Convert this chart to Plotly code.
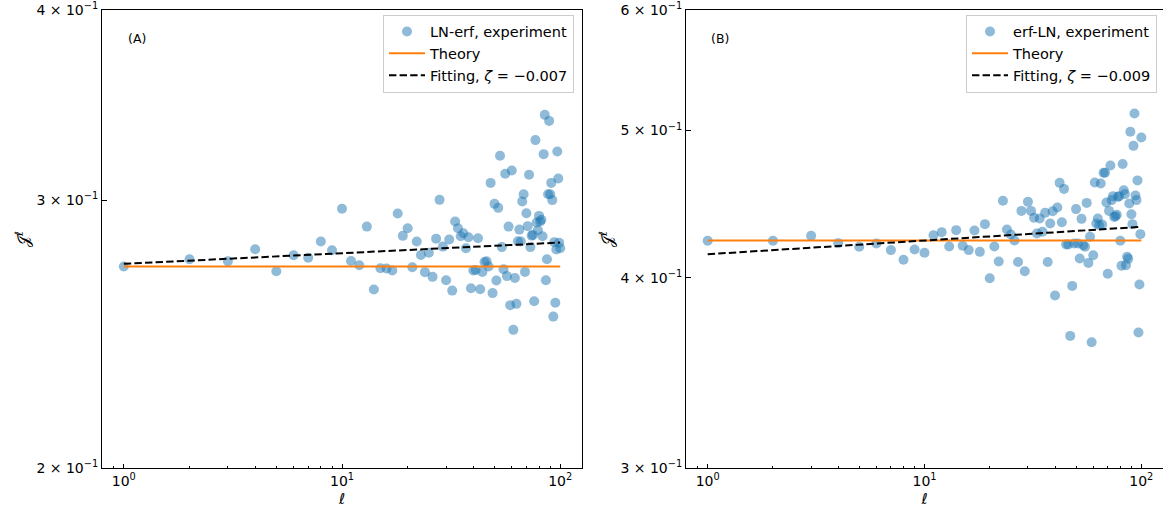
import math
import plotly.graph_objects as go

# ---------------- data ----------------
ell = list(range(1, 101))

ln_erf = [
    0.2713, 0.2743, 0.2735, 0.2785, 0.2694, 0.2760, 0.2749, 0.2818, 0.2781, 0.2961,
    0.2736, 0.2718, 0.2882, 0.2620, 0.2706, 0.2705, 0.2697, 0.2940, 0.2842, 0.2875,
    0.2710, 0.2818, 0.2761, 0.2690, 0.2770, 0.2671, 0.2830, 0.3001, 0.2796, 0.2657,
    0.2826, 0.2616, 0.2904, 0.2875, 0.2840, 0.2853, 0.2789, 0.2836, 0.2625, 0.2697,
    0.2699, 0.2832, 0.2621, 0.2691, 0.2732, 0.2735, 0.2713, 0.3079, 0.2606, 0.2983,
    0.2656, 0.2965, 0.3208, 0.2794, 0.2702, 0.3122, 0.2674, 0.2882, 0.2559, 0.3137,
    0.2465, 0.2666, 0.2564, 0.2819, 0.2869, 0.2818, 0.2994, 0.3027, 0.2691, 0.2941,
    0.2884, 0.3117, 0.2794, 0.2843, 0.2846, 0.2574, 0.3285, 0.2900, 0.2866, 0.2929,
    0.2904, 0.2912, 0.2840, 0.3216, 0.3413, 0.2657, 0.2743, 0.3027, 0.3382, 0.3027,
    0.3079, 0.3000, 0.2515, 0.2815, 0.2568, 0.2784, 0.3229, 0.3100, 0.2812, 0.2789,
]

erf_ln = [
    0.4231, 0.4231, 0.4263, 0.4216, 0.4193, 0.4214, 0.4172, 0.4111, 0.4176, 0.4155,
    0.4267, 0.4287, 0.4195, 0.4300, 0.4199, 0.4172, 0.4298, 0.4161, 0.4339, 0.3998,
    0.4195, 0.4101, 0.4495, 0.4304, 0.4272, 0.4233, 0.4098, 0.4427, 0.4041, 0.4488,
    0.4427, 0.4381, 0.4278, 0.4376, 0.4289, 0.4414, 0.4098, 0.4343, 0.4425, 0.3895,
    0.4450, 0.4619, 0.4352, 0.4577, 0.4207, 0.4207, 0.3664, 0.3952, 0.4214, 0.4439,
    0.4214, 0.4119, 0.4374, 0.4203, 0.4193, 0.4481, 0.4092, 0.4257, 0.3629, 0.4140,
    0.4621, 0.4343, 0.4376, 0.4332, 0.4614, 0.4337, 0.4690, 0.4690, 0.4484, 0.4025,
    0.4427, 0.4742, 0.4500, 0.4527, 0.4387, 0.4392, 0.4401, 0.4522, 0.4527, 0.4231,
    0.4074, 0.4752, 0.4568, 0.4541, 0.4078, 0.4130, 0.4117, 0.4477, 0.4990, 0.4405,
    0.4339, 0.4885, 0.5130, 0.4531, 0.4500, 0.4636, 0.3683, 0.3960, 0.4274, 0.4947,
]

theory_A = 0.2713
theory_B = 0.4233
fit_amp_A, zeta_A = 0.2724, -0.007
fit_amp_B, zeta_B = 0.4146, -0.009

names_A = ["LN-erf, experiment", "Theory", "Fitting, <i>ζ</i> = −0.007"]
names_B = ["erf-LN, experiment", "Theory", "Fitting, <i>ζ</i> = −0.009"]

x_major = [1, 10, 100]
x_major_text = ["10<sup>0</sup>", "10<sup>1</sup>", "10<sup>2</sup>"]
x_minor = [0.8, 0.9] + [k for k in range(2, 10)] + [10 * k for k in range(2, 10)]

yA_ticks = [0.2, 0.3, 0.4]
yA_text = ["2 × 10<sup>−1</sup>", "3 × 10<sup>−1</sup>", "4 × 10<sup>−1</sup>"]
yB_ticks = [0.3, 0.4, 0.5, 0.6]
yB_text = ["3 × 10<sup>−1</sup>", "4 × 10<sup>−1</sup>", "5 × 10<sup>−1</sup>", "6 × 10<sup>−1</sup>"]

# ---------------- styles ----------------
FONT = "DejaVu Sans"
BLUE = "rgba(31,119,180,0.5)"
ORANGE = "#ff7f0e"
W, H = 1163, 512

fig = go.Figure()


def add_panel(values, theory, amp, zeta, names, xa, ya, leg):
    fig.add_trace(go.Scatter(
        x=ell, y=values, mode="markers", name=names[0],
        marker=dict(color=BLUE, size=10, line=dict(width=0)),
        xaxis=xa, yaxis=ya, legend=leg))
    fig.add_trace(go.Scatter(
        x=[ell[0], ell[-1]], y=[theory, theory], mode="lines", name=names[1],
        line=dict(color=ORANGE, width=2),
        xaxis=xa, yaxis=ya, legend=leg))
    fit = [amp * l ** (-zeta) for l in ell]
    fig.add_trace(go.Scatter(
        x=ell, y=fit, mode="lines", name=names[2],
        line=dict(color="black", width=2, dash="7.4px,3.2px"),
        xaxis=xa, yaxis=ya, legend=leg))


add_panel(ln_erf, theory_A, fit_amp_A, zeta_A, names_A, "x", "y", "legend")
add_panel(erf_ln, theory_B, fit_amp_B, zeta_B, names_B, "x2", "y2", "legend2")

xcommon = dict(
    type="log", range=[-0.1, 2.1], showgrid=False, zeroline=False,
    showline=True, linecolor="black", linewidth=1, mirror=True,
    ticks="inside", ticklen=4.5, tickwidth=1, tickcolor="black",
    tickvals=x_major, ticktext=x_major_text,
    tickfont=dict(family=FONT, size=14, color="black"),
    minor=dict(tickvals=x_minor, ticks="inside", ticklen=2.5, tickwidth=1,
               tickcolor="black", showgrid=False),
    title=dict(text="<i>ℓ</i>", font=dict(family=FONT, size=15, color="black"), standoff=5),
    automargin=False,
)
ycommon = dict(
    type="log", showgrid=False, zeroline=False,
    showline=True, linecolor="black", linewidth=1, mirror=True,
    ticks="inside", ticklen=4.5, tickwidth=1, tickcolor="black",
    tickfont=dict(family=FONT, size=14, color="black"),
    title=dict(text="𝒥<sup><i>ℓ</i></sup>", font=dict(family=FONT, size=16, color="black"), standoff=2),
    automargin=False,
)

legcommon = dict(
    xanchor="right", yanchor="top", y=0.99,
    bgcolor="rgba(255,255,255,0.8)", bordercolor="#cccccc", borderwidth=1,
    font=dict(family=FONT, size=14.5, color="black"),
    itemwidth=36, tracegroupgap=0,
)

fig.update_layout(
    width=W, height=H,
    margin=dict(l=0, r=0, t=10, b=44),
    paper_bgcolor="white", plot_bgcolor="white",
    font=dict(family=FONT, color="black"),
    xaxis=dict(domain=[102 / W, 582 / W], anchor="y", **xcommon),
    yaxis=dict(domain=[0, 1], anchor="x", range=[math.log10(0.2), math.log10(0.4)],
               tickvals=yA_ticks, ticktext=yA_text, **ycommon),
    xaxis2=dict(domain=[686 / W, 1.0], anchor="y2", **xcommon),
    yaxis2=dict(domain=[0, 1], anchor="x2", range=[math.log10(0.3), math.log10(0.6)],
                tickvals=yB_ticks, ticktext=yB_text, **ycommon),
    legend=dict(x=574 / W, **legcommon),
    legend2=dict(x=1157 / W, **legcommon),
    annotations=[
        dict(text="(A)", x=126 / W, y=1 - 28 / 458, xref="paper", yref="paper",
             xanchor="left", yanchor="middle", showarrow=False,
             font=dict(family=FONT, size=12.5, color="black")),
        dict(text="(B)", x=709 / W, y=1 - 28 / 458, xref="paper", yref="paper",
             xanchor="left", yanchor="middle", showarrow=False,
             font=dict(family=FONT, size=12.5, color="black")),
    ],
)

fig.write_html(
    "out.html",
    config={"displayModeBar": False},
    post_script="document.body.style.margin='0';document.body.style.padding='0';",
)
